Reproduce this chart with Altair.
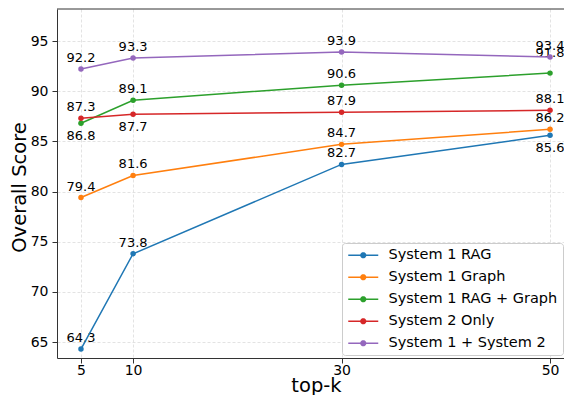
import math
import altair as alt
import pandas as pd

# ---- data ----
TOPK = [5, 10, 30, 50]
SERIES = ["System 1 RAG", "System 1 Graph", "System 1 RAG + Graph",
          "System 2 Only", "System 1 + System 2"]
RAG = [64.3, 73.8, 82.7, 85.6]
GRAPH = [79.4, 81.6, 84.7, 86.2]
RAG_GRAPH = [86.8, 89.1, 90.6, 91.8]
SYS2 = [87.3, 87.7, 87.9, 88.1]
COMBO = [92.2, 93.3, 93.9, 93.4]
Y_TICKS = [65, 70, 75, 80, 85, 90, 95]

# ---- styles ----
COLORS = ["#1f77b4", "#ff7f0e", "#2ca02c", "#d62728", "#9467bd"]
PLACE = {
    "System 1 RAG": ["above", "above", "above", "below"],
    "System 1 Graph": ["above", "above", "above", "above"],
    "System 1 RAG + Graph": ["below", "above", "above", "high"],
    "System 2 Only": ["above", "below", "above", "above"],
    "System 1 + System 2": ["above", "above", "above", "above"],
}
X_DOMAIN = [2.7, 51.34]
Y_DOMAIN = [63.41, 98.19]
FONT = "DejaVu Sans"

values = dict(zip(SERIES, [RAG, GRAPH, RAG_GRAPH, SYS2, COMBO]))
hexes = dict(zip(SERIES, COLORS))
rows = []
for s in SERIES:
    for k, v, p in zip(TOPK, values[s], PLACE[s]):
        rows.append({"series": s, "topk": k, "score": v, "place": p,
                     "label": f"{v:.1f}", "hex": hexes[s]})
df = pd.DataFrame(rows)


def circle_poly(r, n=20):
    pts = []
    for i in range(n):
        a = 2 * math.pi * i / n
        pts.append(f"{r * math.cos(a):.3f},{r * math.sin(a):.3f}")
    return "M" + "L".join(pts) + "Z"


LEGEND_PATH = "M-3,-0.15L3,-0.15L3,0.15L-3,0.15Z " + circle_poly(0.62)

x_enc = alt.X("topk:Q",
              scale=alt.Scale(domain=X_DOMAIN, nice=False, zero=False),
              axis=alt.Axis(values=TOPK, title="top-k", labelPadding=0,
                            titleY=33, titleX=259,
                            titleBaseline="alphabetic", labelFlush=False))
y_enc = alt.Y("score:Q",
              scale=alt.Scale(domain=Y_DOMAIN, nice=False, zero=False),
              axis=alt.Axis(values=Y_TICKS, title="Overall Score",
                            labelPadding=4, titlePadding=1, titleY=178))
color_scale = alt.Scale(domain=SERIES, range=COLORS)

base = alt.Chart(df)

top_border = alt.Chart(pd.DataFrame({"score": [Y_DOMAIN[1]]})).mark_rule(
    color="#333333", strokeWidth=1
).encode(y=y_enc)


def text_layer(place, dy):
    return base.transform_filter(alt.datum.place == place).mark_text(
        dy=dy, fontSize=13, font=FONT, color="black"
    ).encode(x=x_enc, y=y_enc, text="label:N")


lines = base.mark_line(strokeWidth=1.5).encode(
    x=x_enc, y=y_enc,
    stroke=alt.Stroke("hex:N", scale=None),
    detail="series:N",
)

points = base.mark_point(filled=True, size=30, opacity=1).encode(
    x=x_enc, y=y_enc,
    color=alt.Color(
        "series:N", scale=color_scale, sort=SERIES,
        legend=alt.Legend(
            title=None, orient="none", legendX=285, legendY=234,
            symbolType=LEGEND_PATH, symbolSize=100, symbolStrokeWidth=0,
            symbolOffset=9, labelOffset=18, labelFontSize=14.5,
            labelFont=FONT, labelColor="black", labelLimit=400,
            padding=5, rowPadding=7, fillColor="white",
            strokeColor="#cccccc", cornerRadius=3, symbolOpacity=1,
        ),
    ),
)

chart = alt.layer(
    top_border,
    text_layer("above", -11),
    text_layer("below", 13),
    text_layer("high", -20),
    lines,
    points,
).properties(
    width=507, height=349,
    padding={"left": 49, "top": 1, "right": 0, "bottom": 37},
    autosize=alt.AutoSizeParams(type="none"),
).configure_view(
    stroke="transparent"
).configure_axis(
    labelFont=FONT, labelFontSize=14, labelColor="black",
    titleFont=FONT, titleFontSize=19.5, titleFontWeight="normal",
    titleColor="black", domainColor="#333333", tickColor="#333333",
    tickSize=5, gridColor="#dcdcdc", gridDash=[3, 2], gridWidth=0.8,
)

chart.save("out.html", embed_options={"renderer": "svg", "actions": False})
